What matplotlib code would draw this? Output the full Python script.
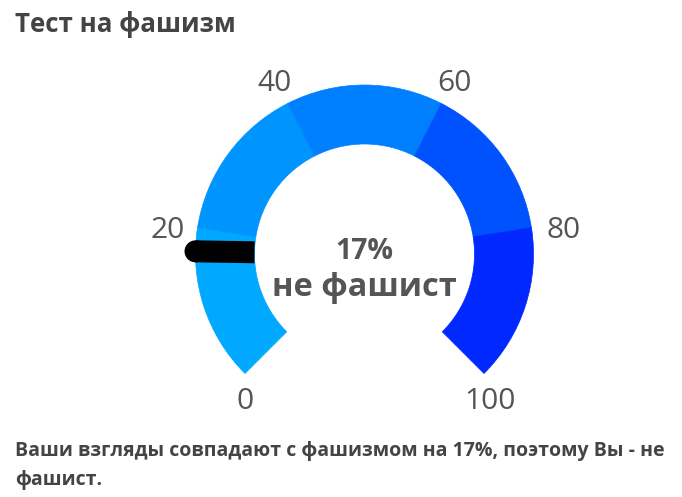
import numpy as np
import matplotlib
matplotlib.use("Agg")
import matplotlib.pyplot as plt
from matplotlib.patches import Wedge, Polygon, Circle

# data
title = "Тест на фашизм"
gauge_value = 17
verdict = "не фашист"
bounds = [0, 20, 40, 60, 80, 100]
seg_colors = ["#00A8FF", "#0094FF", "#0080FF", "#0052FF", "#0028FF"]
tick_values = [0, 20, 40, 60, 80, 100]
summary = ["Ваши взгляды совпадают с фашизмом на 17%, поэтому Вы - не",
           "фашист."]

W, H = 682, 497
plt.rcParams['font.family'] = ['Open Sans', 'DejaVu Sans']

fig = plt.figure(figsize=(W / 100, H / 100), dpi=100)
ax = fig.add_axes([0, 0, 1, 1])
ax.set_xlim(0, W)
ax.set_ylim(0, H)
ax.axis('off')

# gauge geometry (pixels, y measured from bottom)
cx, cy = 364.5, H - 254
r_out, r_in = 169, 110
start, sweep = 225, 270


def ang(v):
    return start - v / 100 * sweep


# coloured bands
for a, b, c in zip(bounds[:-1], bounds[1:], seg_colors):
    ax.add_patch(Wedge((cx, cy), r_out, ang(b), ang(a), width=r_out - r_in,
                       facecolor=c, edgecolor=c, lw=0.5))

# needle: flat at inner edge, rounded outside
t = np.radians(ang(gauge_value))
d = np.array([np.cos(t), np.sin(t)])
n = np.array([-d[1], d[0]])
hw = 11
p_in = np.array([cx, cy]) + d * r_in
p_out = np.array([cx, cy]) + d * r_out
ax.add_patch(Polygon([p_in + n * hw, p_out + n * hw, p_out - n * hw, p_in - n * hw],
                     closed=True, facecolor='black', edgecolor='none'))
ax.add_patch(Circle(p_out, hw, facecolor='black', edgecolor='none'))

# tick labels
for v in tick_values:
    tt = np.radians(ang(v))
    ex, ey = cx + r_out * np.cos(tt), cy + r_out * np.sin(tt)
    if np.sin(tt) < -0.5:
        x, y, ha = ex + 3 + 3 * np.sign(np.cos(tt)), ey - 35, 'center'
    elif np.cos(tt) < -0.5:
        x, y, ha = ex - 13, ey - 10.5, 'right'
    elif np.cos(tt) > 0.5:
        x, y, ha = ex + 15, ey - 10.5, 'left'
    else:
        x, y, ha = ex + 13 * np.sign(np.cos(tt)), ey + 12, 'center'
    ax.text(x, y, str(v), ha=ha, va='baseline', fontsize=21.5, color='#555555')

# centre text
ax.text(cx, H - 259, f"{gauge_value}%", ha='center', va='baseline',
        fontsize=20.4, fontweight='bold', color='#555555')
ax.text(cx, H - 296, verdict, ha='center', va='baseline',
        fontsize=23.4, fontweight='bold', color='#555555')

# title and summary
ax.text(15, H - 32, title, ha='left', va='baseline', fontsize=18.6,
        fontweight='bold', color='#444444')
for i, line in enumerate(summary):
    ax.text(15, H - 456 - 29 * i, line, ha='left', va='baseline', fontsize=14,
            fontweight='bold', color='#444444')

fig.savefig("out.png", dpi=100, facecolor='white')
